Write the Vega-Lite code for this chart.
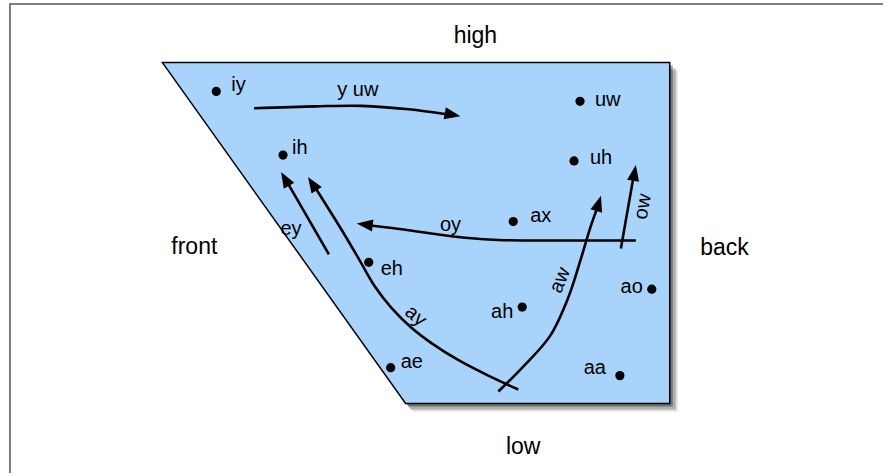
{
  "$schema": "https://vega.github.io/schema/vega-lite/v6.json",
  "width": 886,
  "height": 476,
  "autosize": {"type": "fit", "contains": "padding"},
  "padding": 0,
  "background": "white",
  "config": {"view": {"stroke": null}},
  "datasets": {
    "frame": [
      {"x": 10, "y": 476, "o": 0},
      {"x": 10, "y": 4, "o": 1},
      {"x": 886, "y": 4, "o": 2}
    ],
    "shadow": [
      {"x": 165, "yb": 66, "yt": 66, "x2": 168, "yb2": 69, "yt2": 69, "x3": 170, "yb3": 71, "yt3": 71},
      {"x": 410, "yb": 409, "yt": 66, "x2": 412, "yb2": 412, "yt2": 69, "x3": 414, "yb3": 414, "yt3": 71},
      {"x": 675, "yb": 409, "yt": 66, "x2": 678, "yb2": 412, "yt2": 69, "x3": 680, "yb3": 414, "yt3": 71}
    ],
    "panel": [
      {"x": 163, "yb": 63, "yt": 63},
      {"x": 407, "yb": 406, "yt": 63},
      {"x": 672, "yb": 406, "yt": 63}
    ],
    "paths": [
      {"id": "yuw", "o": 0, "x": 255, "y": 109},
      {"id": "yuw", "o": 1, "x": 317, "y": 107},
      {"id": "yuw", "o": 2, "x": 363, "y": 106.5},
      {"id": "yuw", "o": 3, "x": 410, "y": 110},
      {"id": "yuw", "o": 4, "x": 448, "y": 115},
      {"id": "oy", "o": 0, "x": 638, "y": 242},
      {"id": "oy", "o": 1, "x": 560, "y": 242},
      {"id": "oy", "o": 2, "x": 500, "y": 241.5},
      {"id": "oy", "o": 3, "x": 470, "y": 239.5},
      {"id": "oy", "o": 4, "x": 440, "y": 236},
      {"id": "oy", "o": 5, "x": 405, "y": 231},
      {"id": "oy", "o": 6, "x": 372, "y": 227},
      {"id": "ey", "o": 0, "x": 330, "y": 256},
      {"id": "ey", "o": 1, "x": 288, "y": 183},
      {"id": "ay", "o": 0, "x": 520, "y": 392},
      {"id": "ay", "o": 1, "x": 490, "y": 378},
      {"id": "ay", "o": 2, "x": 461, "y": 363},
      {"id": "ay", "o": 3, "x": 434, "y": 346},
      {"id": "ay", "o": 4, "x": 412, "y": 329},
      {"id": "ay", "o": 5, "x": 393, "y": 310},
      {"id": "ay", "o": 6, "x": 376, "y": 288},
      {"id": "ay", "o": 7, "x": 362, "y": 264},
      {"id": "ay", "o": 8, "x": 345, "y": 235},
      {"id": "ay", "o": 9, "x": 317, "y": 190},
      {"id": "aw", "o": 0, "x": 500, "y": 394},
      {"id": "aw", "o": 1, "x": 525, "y": 369},
      {"id": "aw", "o": 2, "x": 552, "y": 338},
      {"id": "aw", "o": 3, "x": 570, "y": 300},
      {"id": "aw", "o": 4, "x": 583, "y": 260},
      {"id": "aw", "o": 5, "x": 592, "y": 230},
      {"id": "aw", "o": 6, "x": 599, "y": 210},
      {"id": "ow", "o": 0, "x": 623, "y": 250},
      {"id": "ow", "o": 1, "x": 636, "y": 176}
    ],
    "heads": [
      {"id": "yuw", "x": 462, "y": 117, "a": 101},
      {"id": "oy", "x": 358, "y": 225, "a": 277},
      {"id": "ey", "x": 282, "y": 173, "a": -30},
      {"id": "ay", "x": 309, "y": 178, "a": -33},
      {"id": "aw", "x": 603, "y": 197, "a": 17},
      {"id": "ow", "x": 638, "y": 166, "a": 10}
    ],
    "vowels": [
      {"v": "iy", "x": 217, "y": 92},
      {"v": "uw", "x": 582, "y": 102},
      {"v": "ih", "x": 284, "y": 156},
      {"v": "uh", "x": 576, "y": 162},
      {"v": "ax", "x": 515, "y": 223},
      {"v": "eh", "x": 370, "y": 264},
      {"v": "ao", "x": 654, "y": 291},
      {"v": "ah", "x": 524, "y": 309},
      {"v": "ae", "x": 392, "y": 370},
      {"v": "aa", "x": 622, "y": 378}
    ],
    "labelsLeft": [
      {"t": "iy", "x": 232, "y": 92},
      {"t": "ih", "x": 293, "y": 155},
      {"t": "uw", "x": 597, "y": 107},
      {"t": "uh", "x": 592, "y": 165},
      {"t": "ax", "x": 532, "y": 223},
      {"t": "eh", "x": 382, "y": 277},
      {"t": "ae", "x": 402, "y": 370}
    ],
    "labelsRight": [
      {"t": "ao", "x": 645, "y": 295},
      {"t": "ah", "x": 515, "y": 320},
      {"t": "aa", "x": 608, "y": 376}
    ],
    "labelsCenter": [
      {"t": "y uw", "x": 359, "y": 97},
      {"t": "oy", "x": 452, "y": 232},
      {"t": "ey", "x": 292, "y": 236}
    ],
    "rotated": [
      {"t": "ay", "x": 417, "y": 318, "a": 40},
      {"t": "aw", "x": 562, "y": 282, "a": -68},
      {"t": "ow", "x": 645, "y": 208, "a": -80}
    ],
    "dims": [
      {"t": "high", "x": 477, "y": 43},
      {"t": "low", "x": 525, "y": 457},
      {"t": "front", "x": 195, "y": 256},
      {"t": "back", "x": 727, "y": 257}
    ]
  },
  "layer": [
    {
      "data": {"name": "frame"},
      "mark": {"type": "line", "color": "#555555", "strokeWidth": 1.5},
      "encoding": {
        "x": {"field": "x", "type": "quantitative", "scale": {"domain": [0, 886], "nice": false, "zero": false}, "axis": null},
        "y": {"field": "y", "type": "quantitative", "scale": {"domain": [0, 476], "nice": false, "zero": false, "reverse": true}, "axis": null},
        "order": {"field": "o"}
      }
    },
    {
      "data": {"name": "shadow"},
      "mark": {"type": "area", "orient": "vertical", "color": "#000000", "opacity": 0.12},
      "encoding": {
        "x": {"field": "x3", "type": "quantitative"},
        "y": {"field": "yb3", "type": "quantitative"},
        "y2": {"field": "yt3"}
      }
    },
    {
      "data": {"name": "shadow"},
      "mark": {"type": "area", "orient": "vertical", "color": "#000000", "opacity": 0.22},
      "encoding": {
        "x": {"field": "x2", "type": "quantitative"},
        "y": {"field": "yb2", "type": "quantitative"},
        "y2": {"field": "yt2"}
      }
    },
    {
      "data": {"name": "shadow"},
      "mark": {"type": "area", "orient": "vertical", "color": "#000000", "opacity": 0.35},
      "encoding": {
        "x": {"field": "x", "type": "quantitative"},
        "y": {"field": "yb", "type": "quantitative"},
        "y2": {"field": "yt"}
      }
    },
    {
      "data": {"name": "panel"},
      "mark": {"type": "area", "orient": "vertical", "fill": "#a8d4fc", "stroke": "#000000", "strokeWidth": 1.5, "opacity": 1, "fillOpacity": 1},
      "encoding": {
        "x": {"field": "x", "type": "quantitative"},
        "y": {"field": "yb", "type": "quantitative"},
        "y2": {"field": "yt"}
      }
    },
    {
      "data": {"name": "paths"},
      "mark": {"type": "line", "color": "#000000", "strokeWidth": 2.6, "interpolate": "catmull-rom", "strokeCap": "butt"},
      "encoding": {
        "x": {"field": "x", "type": "quantitative"},
        "y": {"field": "y", "type": "quantitative"},
        "detail": {"field": "id"},
        "order": {"field": "o"}
      }
    },
    {
      "data": {"name": "heads"},
      "mark": {"type": "point", "shape": "M0,0L0.38,1L-0.38,1Z", "filled": true, "color": "#000000", "opacity": 1, "size": 1024},
      "encoding": {
        "x": {"field": "x", "type": "quantitative"},
        "y": {"field": "y", "type": "quantitative"},
        "angle": {"field": "a", "type": "quantitative", "scale": null}
      }
    },
    {
      "data": {"name": "vowels"},
      "mark": {"type": "point", "shape": "circle", "filled": true, "color": "#000000", "opacity": 1, "size": 85},
      "encoding": {
        "x": {"field": "x", "type": "quantitative"},
        "y": {"field": "y", "type": "quantitative"}
      }
    },
    {
      "data": {"name": "labelsLeft"},
      "mark": {"type": "text", "align": "left", "baseline": "alphabetic", "font": "Liberation Sans", "fontSize": 20, "color": "#000000"},
      "encoding": {
        "x": {"field": "x", "type": "quantitative"},
        "y": {"field": "y", "type": "quantitative"},
        "text": {"field": "t"}
      }
    },
    {
      "data": {"name": "labelsRight"},
      "mark": {"type": "text", "align": "right", "baseline": "alphabetic", "font": "Liberation Sans", "fontSize": 20, "color": "#000000"},
      "encoding": {
        "x": {"field": "x", "type": "quantitative"},
        "y": {"field": "y", "type": "quantitative"},
        "text": {"field": "t"}
      }
    },
    {
      "data": {"name": "labelsCenter"},
      "mark": {"type": "text", "align": "center", "baseline": "alphabetic", "font": "Liberation Sans", "fontSize": 20, "color": "#000000"},
      "encoding": {
        "x": {"field": "x", "type": "quantitative"},
        "y": {"field": "y", "type": "quantitative"},
        "text": {"field": "t"}
      }
    },
    {
      "data": {"name": "rotated"},
      "mark": {"type": "text", "align": "center", "baseline": "middle", "font": "Liberation Sans", "fontSize": 20, "color": "#000000"},
      "encoding": {
        "x": {"field": "x", "type": "quantitative"},
        "y": {"field": "y", "type": "quantitative"},
        "angle": {"field": "a", "type": "quantitative", "scale": null},
        "text": {"field": "t"}
      }
    },
    {
      "data": {"name": "dims"},
      "mark": {"type": "text", "align": "center", "baseline": "alphabetic", "font": "Liberation Sans", "fontSize": 23, "color": "#000000"},
      "encoding": {
        "x": {"field": "x", "type": "quantitative"},
        "y": {"field": "y", "type": "quantitative"},
        "text": {"field": "t"}
      }
    }
  ]
}
